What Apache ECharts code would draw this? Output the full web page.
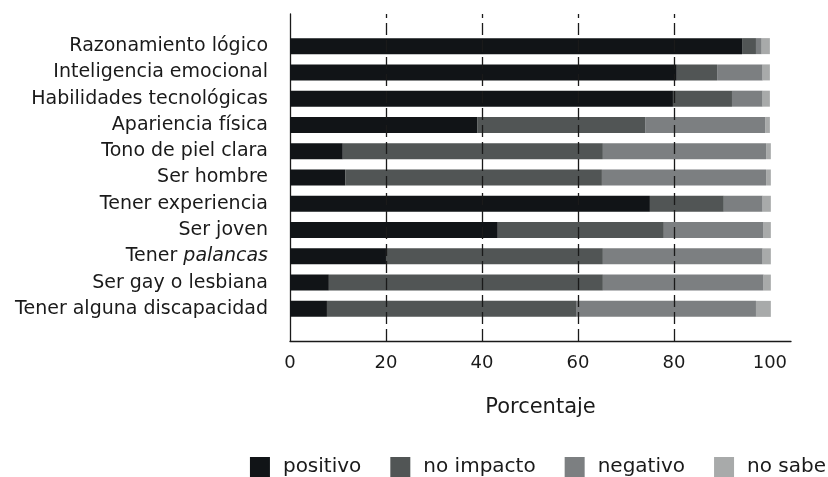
<!DOCTYPE html>
<html>
<head>
<meta charset="utf-8">
<script src="https://cdn.jsdelivr.net/npm/echarts@6/dist/echarts.min.js"></script>
<style>
html,body{margin:0;padding:0;background:#fff;}
#chart{width:828px;height:477px;}
</style>
</head>
<body>
<div id="chart"></div>
<script>
var categories = ['Razonamiento lógico','Inteligencia emocional','Habilidades tecnológicas','Apariencia física','Tono de piel clara','Ser hombre','Tener experiencia','Ser joven','Tener palancas','Ser gay o lesbiana','Tener alguna discapacidad'];
var positivo   = [94.2, 80.6, 79.8, 39.0, 11.0, 11.5, 75.0, 43.3, 20.0,  8.1,  7.7];
var noImpacto  = [ 2.9,  8.4, 12.3, 35.0, 54.2, 53.5, 15.4, 34.6, 45.2, 57.1, 51.9];
var negativo   = [ 1.2,  9.5,  6.4, 25.0, 34.0, 34.2,  8.1, 20.8, 33.3, 33.5, 37.5];
var noSabe     = [ 1.7,  1.5,  1.5,  1.0,  1.0,  1.0,  1.7,  1.5,  1.7,  1.5,  3.1];
var seriesNames = ['positivo','no impacto','negativo','no sabe'];
var xTicks = [0, 20, 40, 60, 80, 100];
var gridValues = [20, 40, 60, 80];
var italicPart = {'Tener palancas': 'palancas'};

var FONT = 'DejaVu Sans';
var colors = ['#111417','#515555','#7c7f81','#a8aaaa'];
var XMAX = 104.4;

var chart = echarts.init(document.getElementById('chart'), null, {renderer:'canvas'});
var dataSets = [positivo, noImpacto, negativo, noSabe];
var series = dataSets.map(function(d, i){
  return {
    name: seriesNames[i], type: 'bar', stack: 'total',
    xAxisIndex: 0, yAxisIndex: 0,
    barWidth: 16,
    itemStyle: {color: colors[i]},
    emphasis: {disabled: true},
    data: d
  };
});
series.push({
  type: 'line', xAxisIndex: 1, yAxisIndex: 1, data: [], silent: true,
  markLine: {
    silent: true, symbol: ['none','none'], label: {show: false},
    lineStyle: {color: '#1a1a1a', type: [12, 5], width: 1.3},
    data: gridValues.map(function(v){ return {xAxis: v}; })
  }
});

chart.setOption({
  animation: false,
  textStyle: {fontFamily: FONT},
  grid: [
    {left: 290, width: 501, top: 33, height: 289, containLabel: false},
    {left: 290, width: 501, top: 14, height: 327, containLabel: false}
  ],
  legend: {
    right: 2, top: 457, padding: 0,
    itemWidth: 20, itemHeight: 20, itemGap: 29,
    icon: 'rect',
    textStyle: {fontFamily: FONT, fontSize: 20, color: '#1a1a1a', padding: [0,0,0,8]},
    data: seriesNames
  },
  xAxis: [
    {gridIndex: 0, type: 'value', min: 0, max: XMAX, show: false},
    {gridIndex: 1, type: 'value', min: 0, max: XMAX, interval: 20,
     axisLine: {show: true, lineStyle: {color: '#1a1a1a', width: 1.3}},
     axisTick: {show: false},
     splitLine: {show: false},
     axisLabel: {fontFamily: FONT, fontSize: 18, color: '#1a1a1a', margin: 13, showMaxLabel: false,
       formatter: function(v){ return xTicks.indexOf(v) >= 0 ? String(v) : ''; }},
     name: 'Porcentaje', nameLocation: 'middle', nameGap: 56,
     nameTextStyle: {fontFamily: FONT, fontSize: 21, color: '#1a1a1a'}
    }
  ],
  yAxis: [
    {gridIndex: 0, type: 'category', inverse: true, data: categories,
     axisLine: {show: false}, axisTick: {show: false}, splitLine: {show: false},
     axisLabel: {fontFamily: FONT, fontSize: 19, color: '#1a1a1a', margin: 22,
       formatter: function(v){
         var it = italicPart[v];
         if (it) { return '{n|' + v.replace(it, '') + '}{i|' + it + '}'; }
         return v;
       },
       rich: {
         n: {fontFamily: FONT, fontSize: 19, color: '#1a1a1a'},
         i: {fontFamily: FONT, fontSize: 19, color: '#1a1a1a', fontStyle: 'italic'}
       }
     }
    },
    {gridIndex: 1, type: 'value', min: 0, max: 1,
     axisLine: {show: true, lineStyle: {color: '#1a1a1a', width: 1.3}},
     axisTick: {show: false}, axisLabel: {show: false}, splitLine: {show: false}}
  ],
  series: series
});
</script>
</body>
</html>
